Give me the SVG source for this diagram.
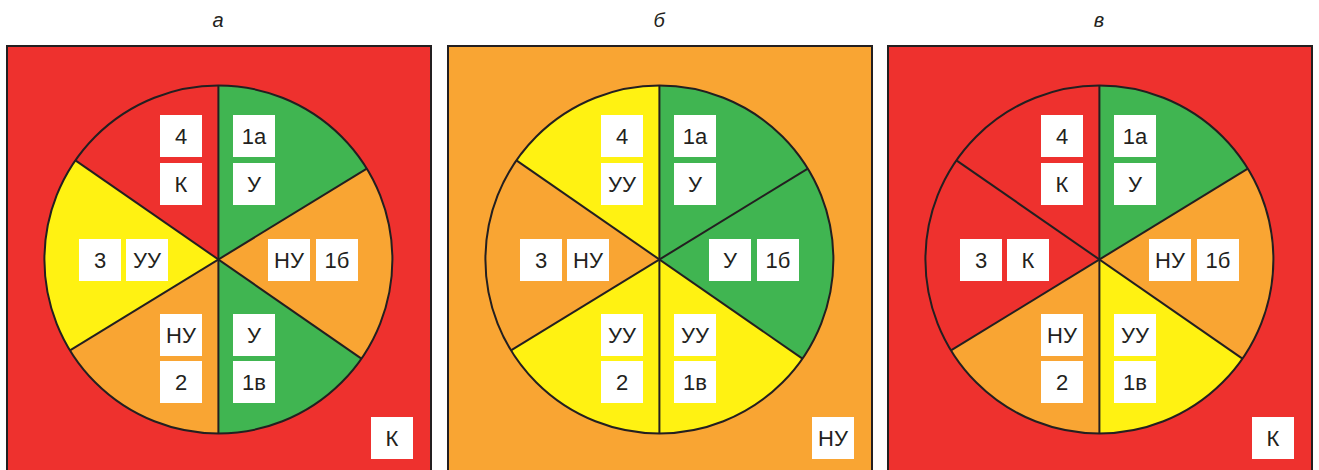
<svg xmlns="http://www.w3.org/2000/svg" width="1319" height="470" viewBox="0 0 1319 470">
<style>
.bg{stroke:#231f20;stroke-width:2}
.r{fill:#ee312e}.g{fill:#40b551}.o{fill:#f9a533}.y{fill:#fff212}
.ln{fill:none;stroke:#231f20;stroke-width:2}
.b{fill:#ffffff}
.t{font-family:"Liberation Sans",Arial,sans-serif;font-size:22px;fill:#231f20;text-anchor:middle}
.h{font-family:"Liberation Sans",Arial,sans-serif;font-size:20px;font-style:italic;fill:#231f20;text-anchor:middle}
</style>
<defs>
<path id="sTR" d="M218.4,259.5 L218.4,85.5 A174,174 0 0 1 366.8,168.6 Z"/>
<path id="sR" d="M218.4,259.5 L366.8,168.6 A174,174 0 0 1 361.4,358.6 Z"/>
<path id="sBR" d="M218.4,259.5 L361.4,358.6 A174,174 0 0 1 218.4,433.5 Z"/>
<path id="sBL" d="M218.4,259.5 L218.4,433.5 A174,174 0 0 1 70.0,350.4 Z"/>
<path id="sL" d="M218.4,259.5 L70.0,350.4 A174,174 0 0 1 75.4,160.4 Z"/>
<path id="sTL" d="M218.4,259.5 L75.4,160.4 A174,174 0 0 1 218.4,85.5 Z"/>
<g id="lines">
<circle cx="218.4" cy="259.5" r="174" class="ln"/>
<line x1="218.4" y1="85.5" x2="218.4" y2="433.5" class="ln"/>
<line x1="75.4" y1="160.4" x2="361.4" y2="358.6" class="ln"/>
<line x1="70.0" y1="350.4" x2="366.8" y2="168.6" class="ln"/>
</g>
<rect id="bx" width="42" height="42" class="b"/>
</defs>

<g id="title-a"><text x="218" y="27" class="h">а</text></g>
<g id="title-b"><text x="659" y="27" class="h">б</text></g>
<g id="title-c"><text x="1099" y="27" class="h">в</text></g>

<!-- Panel a -->
<g id="panel-a">
<rect x="7" y="46" width="424" height="440" class="bg r"/>
<use href="#sTL" class="r"/><use href="#sTR" class="g"/><use href="#sR" class="o"/>
<use href="#sBR" class="g"/><use href="#sBL" class="o"/><use href="#sL" class="y"/>
<use href="#lines"/>
<g id="a-n4"><use href="#bx" x="160" y="115"/><text x="181" y="144" class="t">4</text>
<use href="#bx" x="160" y="163"/><text x="181" y="192" class="t">К</text></g>
<g id="a-n1a"><use href="#bx" x="233" y="115"/><text x="254" y="144" class="t">1а</text>
<use href="#bx" x="233" y="163"/><text x="254" y="192" class="t">У</text></g>
<g id="a-n3"><use href="#bx" x="79" y="239"/><text x="100" y="268" class="t">3</text>
<use href="#bx" x="126" y="239"/><text x="147" y="268" class="t">УУ</text></g>
<g id="a-n1b"><use href="#bx" x="268" y="239"/><text x="289" y="268" class="t">НУ</text>
<use href="#bx" x="316" y="239"/><text x="337" y="268" class="t">1б</text></g>
<g id="a-n2"><use href="#bx" x="160" y="314"/><text x="181" y="343" class="t">НУ</text>
<use href="#bx" x="160" y="361"/><text x="181" y="390" class="t">2</text></g>
<g id="a-n1v"><use href="#bx" x="233" y="314"/><text x="254" y="343" class="t">У</text>
<use href="#bx" x="233" y="361"/><text x="254" y="390" class="t">1в</text></g>
<g id="a-total"><use href="#bx" x="371" y="417"/><text x="392" y="446" class="t">К</text></g>
</g>

<!-- Panel b -->
<g id="panel-b" transform="translate(441,0)">
<rect x="7" y="46" width="424" height="440" class="bg o"/>
<use href="#sTL" class="y"/><use href="#sTR" class="g"/><use href="#sR" class="g"/>
<use href="#sBR" class="y"/><use href="#sBL" class="y"/><use href="#sL" class="o"/>
<use href="#lines"/>
<g id="b-n4"><use href="#bx" x="160" y="115"/><text x="181" y="144" class="t">4</text>
<use href="#bx" x="160" y="163"/><text x="181" y="192" class="t">УУ</text></g>
<g id="b-n1a"><use href="#bx" x="233" y="115"/><text x="254" y="144" class="t">1а</text>
<use href="#bx" x="233" y="163"/><text x="254" y="192" class="t">У</text></g>
<g id="b-n3"><use href="#bx" x="79" y="239"/><text x="100" y="268" class="t">3</text>
<use href="#bx" x="126" y="239"/><text x="147" y="268" class="t">НУ</text></g>
<g id="b-n1b"><use href="#bx" x="268" y="239"/><text x="289" y="268" class="t">У</text>
<use href="#bx" x="316" y="239"/><text x="337" y="268" class="t">1б</text></g>
<g id="b-n2"><use href="#bx" x="160" y="314"/><text x="181" y="343" class="t">УУ</text>
<use href="#bx" x="160" y="361"/><text x="181" y="390" class="t">2</text></g>
<g id="b-n1v"><use href="#bx" x="233" y="314"/><text x="254" y="343" class="t">УУ</text>
<use href="#bx" x="233" y="361"/><text x="254" y="390" class="t">1в</text></g>
<g id="b-total"><use href="#bx" x="371" y="417"/><text x="392" y="446" class="t">НУ</text></g>
</g>

<!-- Panel c -->
<g id="panel-c" transform="translate(881,0)">
<rect x="7" y="46" width="424" height="440" class="bg r"/>
<use href="#sTL" class="r"/><use href="#sTR" class="g"/><use href="#sR" class="o"/>
<use href="#sBR" class="y"/><use href="#sBL" class="o"/><use href="#sL" class="r"/>
<use href="#lines"/>
<g id="c-n4"><use href="#bx" x="160" y="115"/><text x="181" y="144" class="t">4</text>
<use href="#bx" x="160" y="163"/><text x="181" y="192" class="t">К</text></g>
<g id="c-n1a"><use href="#bx" x="233" y="115"/><text x="254" y="144" class="t">1а</text>
<use href="#bx" x="233" y="163"/><text x="254" y="192" class="t">У</text></g>
<g id="c-n3"><use href="#bx" x="79" y="239"/><text x="100" y="268" class="t">3</text>
<use href="#bx" x="126" y="239"/><text x="147" y="268" class="t">К</text></g>
<g id="c-n1b"><use href="#bx" x="268" y="239"/><text x="289" y="268" class="t">НУ</text>
<use href="#bx" x="316" y="239"/><text x="337" y="268" class="t">1б</text></g>
<g id="c-n2"><use href="#bx" x="160" y="314"/><text x="181" y="343" class="t">НУ</text>
<use href="#bx" x="160" y="361"/><text x="181" y="390" class="t">2</text></g>
<g id="c-n1v"><use href="#bx" x="233" y="314"/><text x="254" y="343" class="t">УУ</text>
<use href="#bx" x="233" y="361"/><text x="254" y="390" class="t">1в</text></g>
<g id="c-total"><use href="#bx" x="371" y="417"/><text x="392" y="446" class="t">К</text></g>
</g>
</svg>
